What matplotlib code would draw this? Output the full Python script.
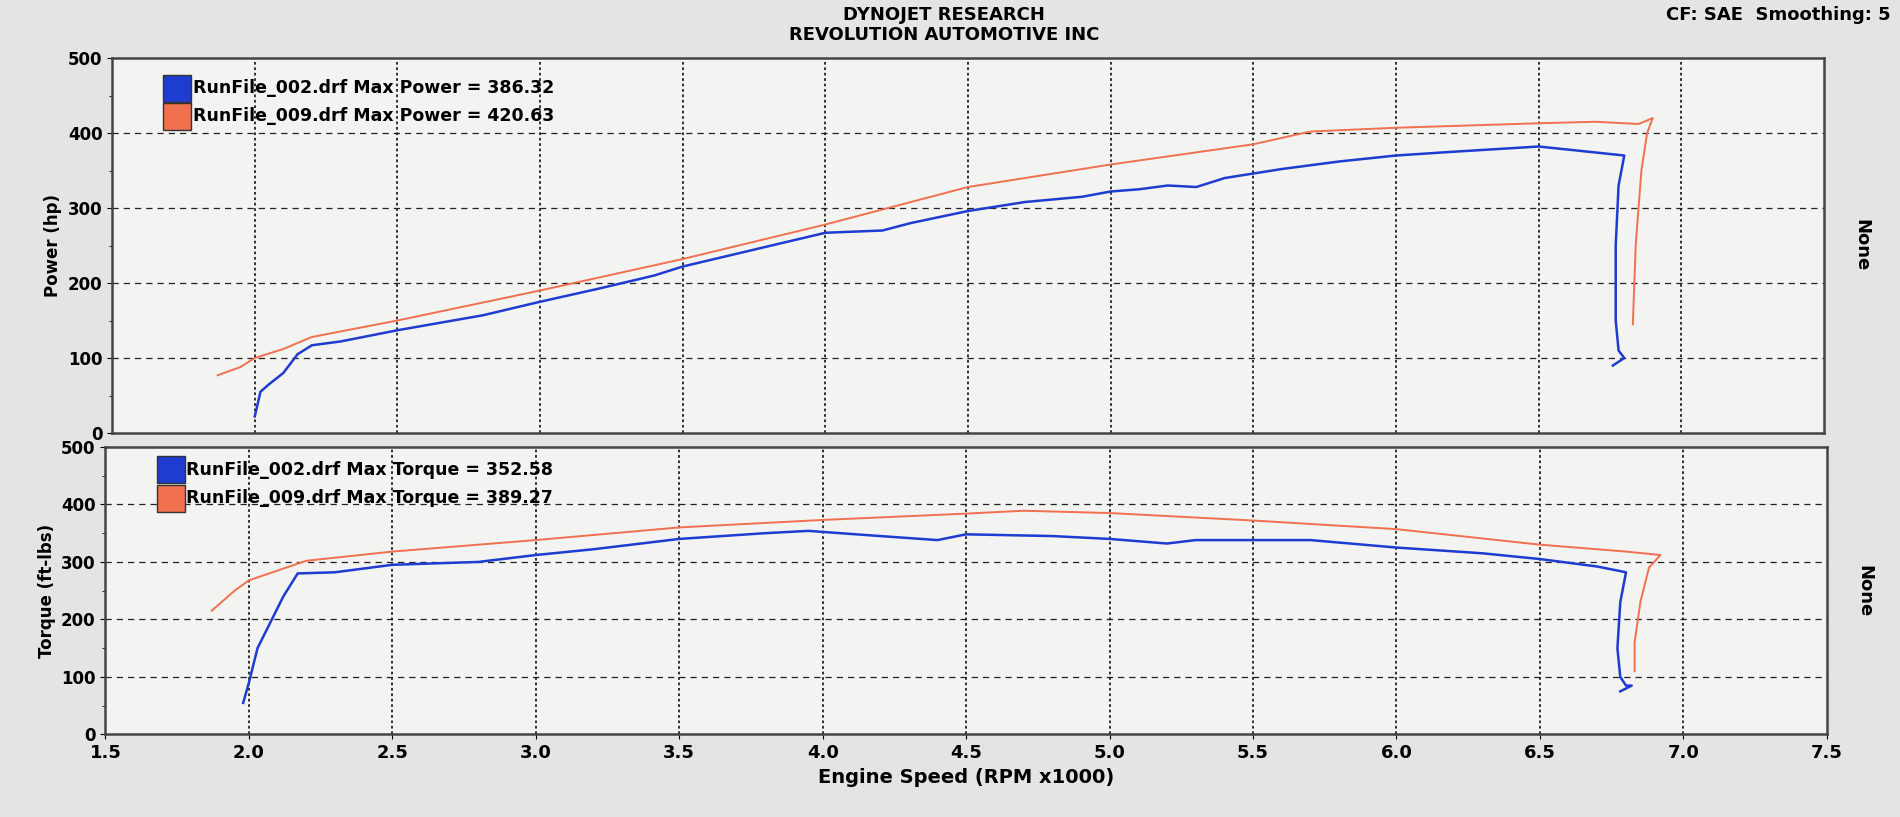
import matplotlib
matplotlib.use("Agg")
import matplotlib.pyplot as plt
import numpy as np

blue_p_x = [2.0,2.02,2.05,2.1,2.15,2.2,2.3,2.5,2.8,3.0,3.2,3.4,3.5,3.7,3.9,4.0,4.2,4.3,4.5,4.7,4.9,5.0,5.1,5.2,5.3,5.4,5.6,5.8,6.0,6.2,6.5,6.6,6.75,6.8,6.78,6.77,6.77,6.78,6.8,6.76]
blue_p_y = [22,55,65,80,105,117,122,137,157,175,192,210,222,240,258,267,270,280,296,308,315,322,325,330,328,340,352,362,370,375,382,378,372,370,330,250,150,110,100,90]
red_p_x = [1.87,1.95,2.0,2.1,2.2,2.5,3.0,3.5,4.0,4.5,5.0,5.5,5.7,6.0,6.5,6.7,6.85,6.9,6.88,6.86,6.84,6.83]
red_p_y = [77,88,100,112,128,150,190,232,278,328,358,385,402,407,413,415,412,420,400,350,250,145]
blue_t_x = [1.98,2.0,2.03,2.08,2.12,2.17,2.3,2.5,2.8,3.0,3.2,3.5,3.8,3.95,4.2,4.4,4.5,4.8,5.0,5.2,5.3,5.7,6.0,6.3,6.5,6.7,6.8,6.78,6.77,6.78,6.8,6.82,6.78]
blue_t_y = [55,90,150,200,240,280,282,295,300,312,322,340,350,354,345,338,348,345,340,332,338,338,325,315,305,292,282,230,150,100,85,85,75]
red_t_x = [1.87,1.95,2.0,2.1,2.2,2.5,3.0,3.5,4.0,4.5,4.7,5.0,5.5,6.0,6.5,6.8,6.92,6.88,6.85,6.83,6.83]
red_t_y = [215,250,268,285,302,318,338,360,373,384,389,385,372,357,330,318,312,290,230,160,110]
x_ticks = [1.5,2.0,2.5,3.0,3.5,4.0,4.5,5.0,5.5,6.0,6.5,7.0,7.5]
y_ticks = [0,100,200,300,400,500]
legend_p = ["RunFile_002.drf Max Power = 386.32", "RunFile_009.drf Max Power = 420.63"]
legend_t = ["RunFile_002.drf Max Torque = 352.58", "RunFile_009.drf Max Torque = 389.27"]

BLUE = "#1e3cd0"
RED = "#f0704f"
fig = plt.figure(figsize=(19, 8.17), dpi=100, facecolor="#e4e5e3")
ax1 = fig.add_axes([0.059, 0.470, 0.901, 0.459], facecolor="#f3f3f1")
ax2 = fig.add_axes([0.0555, 0.101, 0.906, 0.352], facecolor="#f3f3f1")

def style(ax, ylabel, leg, showx, h):
    ax.set_xlim(1.5, 7.5)
    ax.set_ylim(0, 500)
    ax.set_xticks(x_ticks)
    ax.set_yticks(y_ticks)
    ax.set_yticks(np.arange(0, 501, 50), minor=True)
    ax.set_yticklabels([str(v) for v in y_ticks], fontsize=12, fontweight="bold")
    if showx:
        ax.set_xticklabels([f"{v:.1f}" for v in x_ticks], fontsize=13, fontweight="bold")
        ax.set_xlabel("Engine Speed (RPM x1000)", fontsize=14, fontweight="bold")
    else:
        ax.set_xticklabels([])
        ax.tick_params(axis="x", length=0)
    ax.set_ylabel(ylabel, fontsize=12, fontweight="bold", labelpad=4)
    for v in x_ticks[1:-1]:
        ax.axvline(v, color="#222", ls=(0, (1.5, 1.5)), lw=1.3, zorder=1)
    for v in y_ticks[1:-1]:
        ax.axhline(v, color="#222", ls=(0, (5, 4)), lw=0.9, zorder=1)
    for s in ax.spines.values():
        s.set_color("#444"); s.set_linewidth(1.8)
    ax.text(1.022, 0.5, "None", transform=ax.transAxes, rotation=-90,
            fontsize=13, fontweight="bold", va="center", ha="center")
    k = 0.459 / h
    for i, (lab, c) in enumerate(zip(leg, [BLUE, RED])):
        y = 0.92 - i * 0.075 * k
        ax.add_patch(plt.Rectangle((0.03, y - 0.036 * k), 0.016, 0.072 * k,
                                   transform=ax.transAxes, color=c, ec="#333", zorder=5))
        ax.text(0.047, y, lab, transform=ax.transAxes, fontsize=12.5, fontweight="bold",
                va="center", zorder=5)

style(ax1, "Power (hp)", legend_p, False, 0.459)
style(ax2, "Torque (ft-lbs)", legend_t, True, 0.352)
ax1.plot(red_p_x, red_p_y, color=RED, lw=1.4, zorder=3)
ax1.plot(blue_p_x, blue_p_y, color=BLUE, lw=1.8, zorder=4)
ax2.plot(red_t_x, red_t_y, color=RED, lw=1.4, zorder=3)
ax2.plot(blue_t_x, blue_t_y, color=BLUE, lw=1.8, zorder=4)

fig.text(0.497, 0.993, "DYNOJET RESEARCH", ha="center", va="top", fontsize=13, fontweight="bold")
fig.text(0.497, 0.968, "REVOLUTION AUTOMOTIVE INC", ha="center", va="top", fontsize=13, fontweight="bold")
fig.text(0.995, 0.993, "CF: SAE  Smoothing: 5", ha="right", va="top", fontsize=13, fontweight="bold")
fig.savefig("out.png", dpi=100, facecolor=fig.get_facecolor())
